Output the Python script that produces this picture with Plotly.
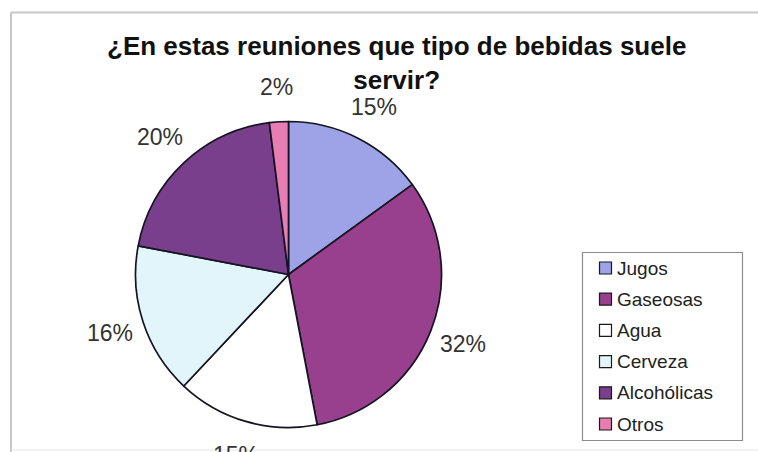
import math
import plotly.graph_objects as go

# Survey results: drink types served at gatherings (percent of answers)
categories = ["Jugos", "Gaseosas", "Agua", "Cerveza", "Alcohólicas", "Otros"]
values = [15, 32, 15, 16, 20, 2]
colors = ["#9da3e6", "#983f8e", "#ffffff", "#e2f5fb", "#7a3f8c", "#e77db2"]
title_text = "¿En estas reuniones que tipo de bebidas suele<br>servir?"

W, H = 758, 452
FONT = "Liberation Sans, Arial, sans-serif"

# pie geometry in pixels
cx, cy, r = 288.5, 274.5, 153
label_r = 188


def px(x):
    return x / W


def py(y):
    return 1 - y / H


fig = go.Figure()
fig.add_trace(go.Pie(
    labels=categories,
    values=values,
    sort=False,
    direction="clockwise",
    rotation=0,
    marker=dict(colors=colors, line=dict(color="#151522", width=1.7)),
    textinfo="none",
    hoverinfo="label+percent",
    showlegend=False,
    domain=dict(x=[px(cx - r), px(cx + r)], y=[py(cy + r), py(cy - r)]),
))

annotations = []
shapes = []

# percentage labels placed outside each slice along its mid-angle
total = sum(values)
cum = 0
for v in values:
    mid = (cum + v / 2) / total * 2 * math.pi
    cum += v
    lx = cx + label_r * math.sin(mid)
    ly = cy - label_r * math.cos(mid)
    annotations.append(dict(
        x=px(lx), y=py(ly), xref="paper", yref="paper",
        text=f"{round(v / total * 100)}%", showarrow=False,
        xanchor="center", yanchor="middle",
        font=dict(family=FONT, size=23, color="#333333"),
    ))

# chart title
annotations.append(dict(
    x=px(396), y=py(63), xref="paper", yref="paper",
    text=title_text, showarrow=False, xanchor="center", yanchor="middle",
    font=dict(family=FONT, size=26, color="#111111", weight="bold"),
    align="center",
))

# legend box with colour keys
shapes.append(dict(type="rect", xref="paper", yref="paper",
                   x0=px(582.5), x1=px(742.5), y0=py(440.5), y1=py(252.5),
                   line=dict(color="#8c8c8c", width=1.2), fillcolor="white"))
for i, (name, col) in enumerate(zip(categories, colors)):
    yc = 268 + i * 31.2
    shapes.append(dict(type="rect", xref="paper", yref="paper",
                       x0=px(599.5), x1=px(611.5), y0=py(yc + 6), y1=py(yc - 6),
                       line=dict(color="#1a1a1a", width=1.2), fillcolor=col))
    annotations.append(dict(
        x=px(615), y=py(yc), xref="paper", yref="paper", text=name,
        showarrow=False, xanchor="left", yanchor="middle",
        font=dict(family=FONT, size=19, color="#222222"),
    ))

# outer chart frame
frame = dict(color="#c8c8c8", width=2)
shapes.append(dict(type="line", xref="paper", yref="paper",
                   x0=px(11), x1=px(758), y0=py(12.5), y1=py(12.5), line=frame))
shapes.append(dict(type="line", xref="paper", yref="paper",
                   x0=px(11), x1=px(11), y0=py(12.5), y1=py(452), line=frame))
shapes.append(dict(type="line", xref="paper", yref="paper",
                   x0=px(11), x1=px(758), y0=py(450), y1=py(450),
                   line=dict(color="#e4e4e4", width=1)))

fig.update_layout(
    width=W, height=H,
    margin=dict(l=0, r=0, t=0, b=0),
    paper_bgcolor="white",
    plot_bgcolor="white",
    annotations=annotations,
    shapes=shapes,
)

fig.write_html("out.html")
